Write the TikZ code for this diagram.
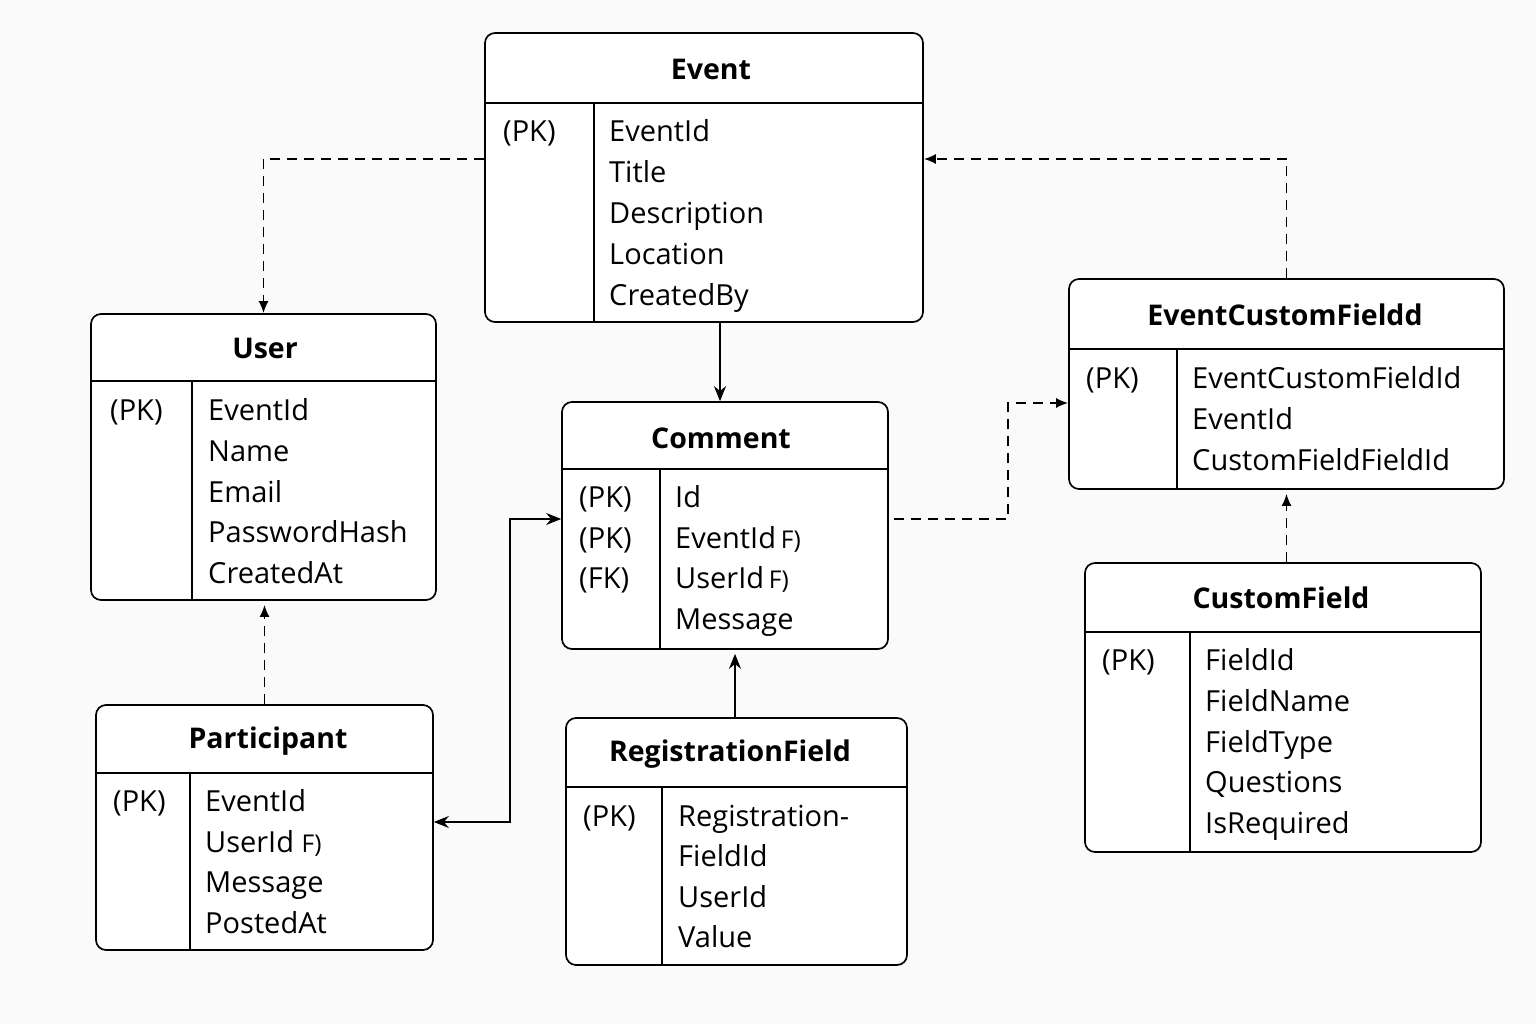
\documentclass[tikz,border=0pt]{standalone}
\usepackage{fontspec}
\setmainfont{Open Sans}
\usetikzlibrary{arrows.meta}

\newcommand{\fsm}{\fontsize{24.5}{26}\selectfont}

\tikzset{
  tbl/.style={draw, fill=white, rounded corners=10pt, line width=1.7pt, inner sep=0pt},
  sepline/.style={line width=1.7pt},
  ttl/.style={font=\fontsize{28.5}{30}\selectfont\bfseries},
  fld/.style={anchor=west, inner sep=0pt, text height=21pt, text depth=0pt, font=\fontsize{29}{30}\selectfont},
  rel/.style={line width=1.7pt, -{Stealth[length=15pt,width=12pt]}},
  dep/.style={line width=1.7pt, dash pattern=on 10pt off 7pt, -{Latex[length=12pt,width=10pt]}}
}

\begin{document}
\begin{tikzpicture}[x=1pt, y=-1pt]
  \useasboundingbox[fill=black!2] (0,0) rectangle (1536,1024);
% Event
  \node[tbl, minimum width=438pt, minimum height=289pt] (event) at (704,177.5) {};
  \draw[sepline] (event.west |- 0,103) -- (event.east |- 0,103);
  \draw[sepline] (594,103) -- (event.south -| 594,0);
  \node[ttl] (event-t) at (711,69) {Event};
  \node[fld] (event-k) at (503,131) {(PK)};
  \foreach \t [count=\i from 0] in {EventId,Title,Description,Location,CreatedBy}
    \node[fld] (event-f\i) at (609,131+41*\i) {\t};
% User
  \node[tbl, minimum width=345pt, minimum height=286pt] (user) at (263.5,457) {};
  \draw[sepline] (user.west |- 0,381) -- (user.east |- 0,381);
  \draw[sepline] (192,381) -- (user.south -| 192,0);
  \node[ttl] (user-t) at (265,348) {User};
  \node[fld] (user-k) at (110,410) {(PK)};
  \foreach \t [count=\i from 0] in {EventId,Name,Email,PasswordHash,CreatedAt}
    \node[fld] (user-f\i) at (208,410+40.8*\i) {\t};
% Comment
  \node[tbl, minimum width=326pt, minimum height=247pt] (comment) at (725,525.5) {};
  \draw[sepline] (comment.west |- 0,469) -- (comment.east |- 0,469);
  \draw[sepline] (660,469) -- (comment.south -| 660,0);
  \node[ttl] (comment-t) at (721,438) {Comment};
  \foreach \t [count=\i from 0] in {(PK),(PK),(FK)}
    \node[fld] (comment-k\i) at (579,497+40.7*\i) {\t};
  \foreach \t [count=\i from 0] in {Id,{EventId\,{\fsm F)}},{UserId\,{\fsm F)}},Message}
    \node[fld] (comment-f\i) at (675,497+40.7*\i) {\t};
% EventCustomFieldd
  \node[tbl, minimum width=435pt, minimum height=210pt] (ecf) at (1286.5,384) {};
  \draw[sepline] (ecf.west |- 0,349) -- (ecf.east |- 0,349);
  \draw[sepline] (1177,349) -- (ecf.south -| 1177,0);
  \node[ttl] (ecf-t) at (1285,315) {EventCustomFieldd};
  \node[fld] (ecf-k) at (1086,378) {(PK)};
  \foreach \t [count=\i from 0] in {EventCustomFieldId,EventId,CustomFieldFieldId}
    \node[fld] (ecf-f\i) at (1192,378+41*\i) {\t};
% CustomField
  \node[tbl, minimum width=396pt, minimum height=289pt] (cf) at (1283,707.5) {};
  \draw[sepline] (cf.west |- 0,632) -- (cf.east |- 0,632);
  \draw[sepline] (1190,632) -- (cf.south -| 1190,0);
  \node[ttl] (cf-t) at (1281,598) {CustomField};
  \node[fld] (cf-k) at (1102,660) {(PK)};
  \foreach \t [count=\i from 0] in {FieldId,FieldName,FieldType,Questions,IsRequired}
    \node[fld] (cf-f\i) at (1205,660+40.8*\i) {\t};
% Participant
  \node[tbl, minimum width=337pt, minimum height=245pt] (part) at (264.5,827.5) {};
  \draw[sepline] (part.west |- 0,773) -- (part.east |- 0,773);
  \draw[sepline] (190,773) -- (part.south -| 190,0);
  \node[ttl] (part-t) at (268,741) {Participant};
  \node[fld] (part-k) at (113,801) {(PK)};
  \foreach \t [count=\i from 0] in {EventId,{UserId {\fsm F)}},Message,PostedAt}
    \node[fld] (part-f\i) at (205,801+40.7*\i) {\t};
% RegistrationField
  \node[tbl, minimum width=341pt, minimum height=247pt] (reg) at (736.5,841.5) {};
  \draw[sepline] (reg.west |- 0,787) -- (reg.east |- 0,787);
  \draw[sepline] (662,787) -- (reg.south -| 662,0);
  \node[ttl] (reg-t) at (730,754) {RegistrationField};
  \node[fld] (reg-k) at (583,816) {(PK)};
  \foreach \t [count=\i from 0] in {Registration-,FieldId,UserId,Value}
    \node[fld] (reg-f\i) at (678,816+40.3*\i) {\t};
% Links
  \draw[dep] (event.west |- 0,159) -| (user.north);
  \draw[dep] (ecf.north) |- (event.east |- 0,159);
  \draw[rel] (event.south -| 720,0) -- (comment.north -| 720,0);
  \draw[dep, shorten <=5pt] (comment.east |- 0,519) -| (1008,460) |- (ecf.west |- 0,403);
  \draw[dep] (cf.north -| ecf.north) -- ([yshift=-4pt]ecf.south);
  \draw[dep] (part.north) -- ([yshift=-4pt]part.north |- user.south);
  \draw[rel, {Stealth[length=15pt,width=12pt]}-{Stealth[length=15pt,width=12pt]}] (part.east |- 0,822) -| (510,670) |- (comment.west |- 0,519);
  \draw[rel] (reg.north -| 735,0) -- ([yshift=-4pt]comment.south -| 735,0);
\end{tikzpicture}
\end{document}
